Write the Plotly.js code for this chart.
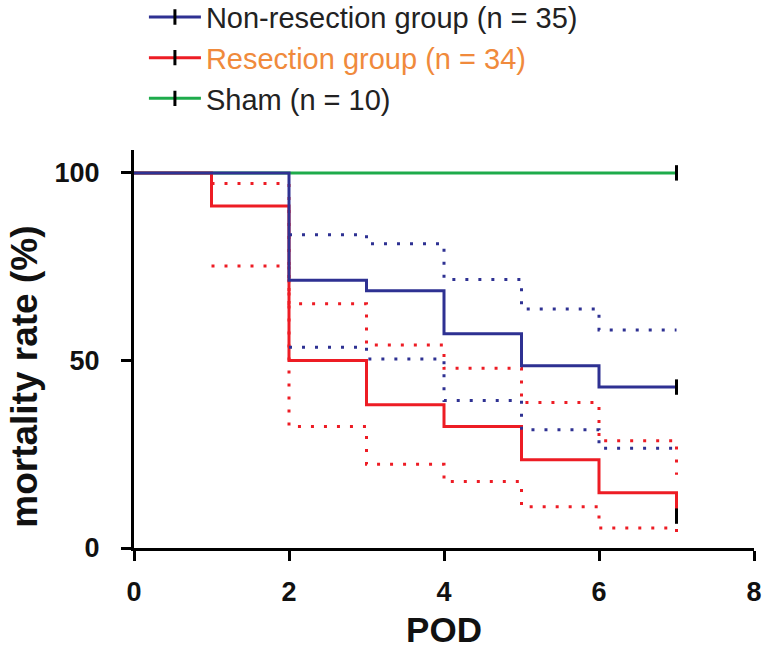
<!DOCTYPE html>
<html>
<head>
<meta charset="utf-8">
<script src="https://cdn.plot.ly/plotly-3.0.1.min.js"></script>
<style>html,body{margin:0;padding:0;background:#fff;}#chart{width:765px;height:650px;}</style>
</head>
<body>
<div id="chart"></div>
<script>
// Post-operative day
var podNon = [0, 2, 3, 4, 5, 6, 7];
var nonResection = [100, 71.4, 68.6, 57.1, 48.6, 42.9, 42.9];
var podNonCI = [2, 3, 4, 5, 6, 7];
var nonUpper = [83.5, 81.1, 71.6, 63.7, 58.1, 58.1];
var nonLower = [53.5, 50.4, 39.3, 31.5, 26.6, 26.6];

var podRes = [0, 1, 2, 3, 4, 5, 6, 7];
var resection = [100, 91.2, 50, 38.2, 32.4, 23.5, 14.7, 8.5];
var podResCI = [1, 2, 3, 4, 5, 6, 7];
var resUpper = [97.2, 65.1, 54.1, 47.9, 38.8, 28.6, 19.5];
var resLower = [75.2, 32.4, 22.3, 17.7, 11.0, 5.3, 3.8];

var podSham = [0, 7];
var sham = [100, 100];

var names = ['Non-resection group (n = 35)', 'Resection group (n = 34)', 'Sham (n = 10)'];
var xTicks = [0, 2, 4, 6, 8];
var yTicks = [0, 50, 100];
var xTitle = 'POD';
var yTitle = 'mortality rate (%)';

var BLUE = '#2E3192', RED = '#ED1C24', GREEN = '#1EAB4B';
var DOT = '3px,10px';
var FONT = 'Liberation Sans, Arial, sans-serif';

function step(x, y, color, dash, width) {
  return {x: x, y: y, type: 'scatter', mode: 'lines', showlegend: false, hoverinfo: 'skip',
    line: {shape: 'hv', color: color, width: width, dash: dash}};
}
function censor(x, y, color, name) {
  var n = x.length - 1;
  return {x: [x[n]], y: [y[n]], type: 'scatter', mode: 'lines+markers', name: name,
    line: {color: color, width: 3},
    marker: {symbol: 'line-ns', size: 11, color: '#000', line: {color: '#000', width: 3}}};
}

var traces = [
  step(podSham, sham, GREEN, 'solid', 3),
  step(podResCI, resUpper, RED, DOT, 3),
  step(podResCI, resLower, RED, DOT, 3),
  step(podRes, resection, RED, 'solid', 3),
  step(podNonCI, nonUpper, BLUE, DOT, 3),
  step(podNonCI, nonLower, BLUE, DOT, 3),
  step(podNon, nonResection, BLUE, 'solid', 3),
  censor(podNon, nonResection, BLUE, names[0]),
  censor(podRes, resection, RED, '<span style="color:#F08A3C">' + names[1] + '</span>'),
  censor(podSham, sham, GREEN, names[2])
];

var layout = {
  width: 765, height: 650,
  margin: {l: 134, r: 11, t: 150, b: 102, autoexpand: false},
  paper_bgcolor: '#fff', plot_bgcolor: '#fff',
  font: {family: FONT, color: '#111'},
  showlegend: true,
  legend: {x: 0.016, y: 1.398, xanchor: 'left', yanchor: 'top',
    font: {size: 29, color: '#222'}, bgcolor: 'rgba(0,0,0,0)', itemwidth: 52, tracegroupgap: 0},
  xaxis: {range: [0, 8], tickvals: xTicks, ticktext: xTicks.map(String), showgrid: false, zeroline: false,
    showline: true, linecolor: '#000', linewidth: 3, ticks: 'outside', ticklen: 10, tickwidth: 3, tickcolor: '#000',
    tickfont: {size: 27, family: FONT, color: '#111', weight: 'bold'},
    ticklabelstandoff: 8,
    title: {text: '<b>' + xTitle + '</b>', font: {size: 35, color: '#111'}, standoff: 12}},
  yaxis: {range: [0, 106.1], tickvals: yTicks, ticktext: yTicks.map(String), showgrid: false, zeroline: false,
    showline: true, linecolor: '#000', linewidth: 3, ticks: 'outside', ticklen: 10, tickwidth: 3, tickcolor: '#000',
    tickfont: {size: 27, family: FONT, color: '#111', weight: 'bold'},
    ticklabelstandoff: 16},
  annotations: [{xref: 'paper', yref: 'paper', x: -0.176, y: 0.43, xanchor: 'center', yanchor: 'middle',
    textangle: -90, showarrow: false, text: '<b>' + yTitle + '</b>',
    font: {size: 37, family: FONT, color: '#111'}}]
};

Plotly.newPlot('chart', traces, layout, {displayModeBar: false, staticPlot: true});
</script>
</body>
</html>
